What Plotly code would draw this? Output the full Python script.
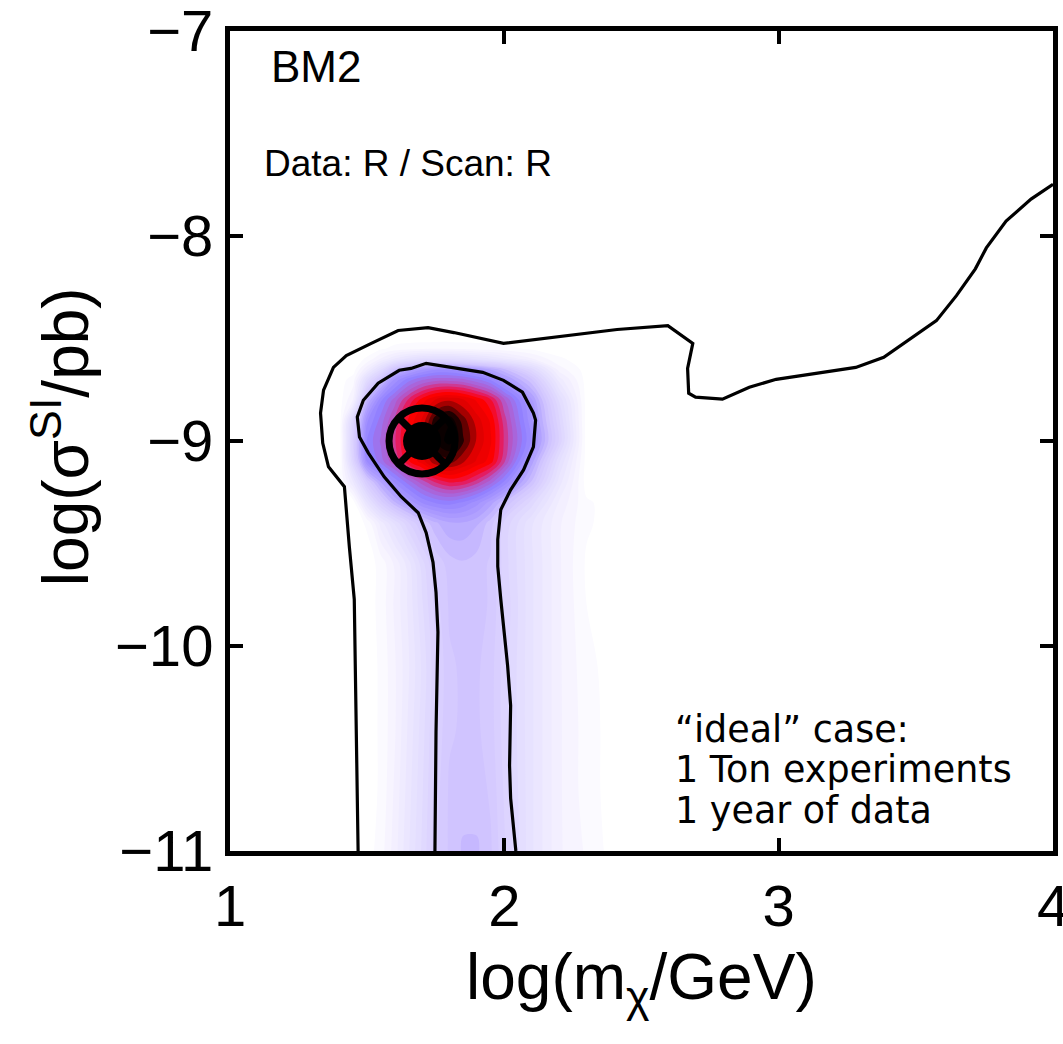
import plotly.graph_objects as go

# ---------------- data ----------------
# grid of the shaded density (log m_chi, log sigma)
x_grid = [1.30, 1.40, 1.45, 1.50, 1.55, 1.60, 1.65, 1.70, 1.75, 1.80, 1.85, 1.90, 1.95, 2.00, 2.10, 2.20, 2.30, 2.40]
y_grid = [-11.0, -10.7, -10.4, -10.1, -9.8, -9.6, -9.4, -9.3, -9.2, -9.1, -9.0, -8.9, -8.8, -8.7, -8.65, -8.6, -8.55, -8.5]

row_m1100 = [0, 0, 0, 0, 0.03, 0.09, 0.16, 0.23, 0.31, 0.35, 0.38, 0.38, 0.35, 0.29, 0.17, 0.08, 0.04, 0]
row_m1070 = [0, 0, 0, 0, 0.02, 0.08, 0.15, 0.22, 0.30, 0.35, 0.36, 0.36, 0.34, 0.28, 0.17, 0.08, 0.03, 0]
row_m1040 = [0, 0, 0, 0, 0.02, 0.07, 0.14, 0.21, 0.29, 0.34, 0.35, 0.35, 0.33, 0.27, 0.17, 0.08, 0.03, 0]
row_m1010 = [0, 0, 0, 0, 0.02, 0.07, 0.13, 0.20, 0.28, 0.34, 0.35, 0.35, 0.33, 0.27, 0.17, 0.08, 0.025, 0]
row_m980 = [0, 0, 0, 0, 0.025, 0.08, 0.14, 0.22, 0.30, 0.35, 0.36, 0.36, 0.34, 0.28, 0.17, 0.08, 0.015, 0]
row_m960 = [0, 0, 0, 0, 0.025, 0.08, 0.15, 0.24, 0.32, 0.36, 0.37, 0.36, 0.34, 0.27, 0.17, 0.08, 0.01, 0]
row_m940 = [0, 0, 0, 0.02, 0.12, 0.20, 0.28, 0.35, 0.40, 0.43, 0.43, 0.41, 0.36, 0.28, 0.17, 0.08, 0.02, 0]
row_m930 = [0, 0, 0, 0.17, 0.30, 0.40, 0.47, 0.53, 0.56, 0.57, 0.55, 0.51, 0.45, 0.38, 0.24, 0.10, 0.02, 0]
row_m920 = [0, 0, 0.14, 0.32, 0.44, 0.53, 0.60, 0.66, 0.71, 0.74, 0.73, 0.69, 0.63, 0.55, 0.37, 0.15, 0, 0]
row_m910 = [0, 0, 0.27, 0.53, 0.60, 0.67, 0.76, 0.81, 0.88, 0.90, 0.86, 0.82, 0.78, 0.68, 0.45, 0.20, 0, 0]
row_m900 = [0, 0, 0.30, 0.56, 0.62, 0.70, 0.78, 0.84, 0.95, 0.99, 0.92, 0.85, 0.80, 0.70, 0.52, 0.28, 0, 0]
row_m890 = [0, 0, 0.26, 0.52, 0.60, 0.68, 0.77, 0.83, 0.94, 0.97, 0.90, 0.84, 0.79, 0.69, 0.50, 0.26, 0, 0]
row_m880 = [0, 0, 0.08, 0.40, 0.55, 0.63, 0.71, 0.78, 0.83, 0.85, 0.83, 0.79, 0.74, 0.65, 0.47, 0.22, 0, 0]
row_m870 = [0, 0, 0.03, 0.22, 0.36, 0.50, 0.57, 0.61, 0.63, 0.63, 0.62, 0.59, 0.55, 0.48, 0.35, 0.12, 0, 0]
row_m865 = [0, 0, 0, 0.10, 0.22, 0.36, 0.44, 0.49, 0.52, 0.52, 0.50, 0.47, 0.43, 0.38, 0.24, 0.06, 0, 0]
row_m860 = [0, 0, 0, 0.02, 0.08, 0.14, 0.18, 0.21, 0.22, 0.22, 0.21, 0.19, 0.17, 0.14, 0.08, 0.02, 0, 0]
row_m855 = [0, 0, 0, 0, 0.01, 0.025, 0.035, 0.04, 0.045, 0.045, 0.04, 0.035, 0.03, 0.025, 0.01, 0, 0, 0]
row_m850 = [0, 0, 0, 0, 0, 0, 0, 0, 0, 0, 0, 0, 0, 0, 0, 0, 0, 0]

# outer (black) contour
outer_x = [1.467, 1.461, 1.453, 1.435, 1.417, 1.359, 1.338, 1.330, 1.341, 1.377, 1.424, 1.515,
           1.613, 1.722, 1.816, 1.997, 2.179, 2.411, 2.596, 2.687, 2.668, 2.672, 2.697, 2.795,
           2.893, 2.991, 3.281, 3.383, 3.575, 3.648, 3.717, 3.757, 3.829, 3.920, 4.0]
outer_y = [-11.0, -10.417, -9.772, -9.515, -9.223, -9.126, -9.010, -8.864, -8.752, -8.641, -8.583, -8.524,
           -8.461, -8.447, -8.471, -8.524, -8.495, -8.456, -8.437, -8.524, -8.646, -8.767, -8.786, -8.796,
           -8.738, -8.699, -8.641, -8.592, -8.413, -8.291, -8.160, -8.058, -7.927, -7.820, -7.748]

# inner (black) contour
inner_x = [1.747, 1.751, 1.758, 1.751, 1.740, 1.715, 1.686, 1.624, 1.562, 1.504, 1.472, 1.464, 1.486,
           1.540, 1.617, 1.660, 1.715, 1.831, 1.921, 1.997, 2.066, 2.106, 2.114, 2.106, 2.070, 2.023,
           1.987, 1.976, 1.976, 1.987, 2.012, 2.023, 2.019, 2.023, 2.042]
inner_y = [-11.0, -10.417, -9.932, -9.738, -9.592, -9.447, -9.350, -9.272, -9.175, -9.058, -8.981, -8.883, -8.801,
           -8.718, -8.655, -8.646, -8.621, -8.646, -8.665, -8.704, -8.762, -8.864, -8.898, -9.029, -9.141, -9.238,
           -9.335, -9.481, -9.612, -9.772, -10.097, -10.291, -10.583, -10.743, -11.0]

# benchmark point
bench_x = [1.7]
bench_y = [-9.0]

x_ticks = [1, 2, 3, 4]
y_ticks = [-11, -10, -9, -8, -7]

density = [row_m1100, row_m1070, row_m1040, row_m1010, row_m980, row_m960, row_m940, row_m930,
           row_m920, row_m910, row_m900, row_m890, row_m880, row_m870, row_m865, row_m860,
           row_m855, row_m850]

colorscale = [
    [0.00, '#ffffff'], [0.02, '#faf8ff'], [0.10, '#f0ecff'], [0.20, '#e4deff'],
    [0.30, '#d9cfff'], [0.36, '#d0c4ff'], [0.45, '#b2a2ff'], [0.58, '#9280ff'],
    [0.67, '#b458c8'], [0.74, '#e81858'], [0.79, '#ff0000'], [0.86, '#e00000'],
    [0.91, '#800000'], [0.95, '#200000'], [1.00, '#000000'],
]

fig = go.Figure()

fig.add_trace(go.Contour(
    x=x_grid, y=y_grid, z=density,
    colorscale=colorscale, zmin=0, zmax=1, zauto=False,
    autocontour=False,
    contours=dict(start=0.015, end=1.0, size=0.03, coloring='fill', showlines=False),
    line=dict(width=0, smoothing=1.0),
    showscale=False, hoverinfo='skip',
))

fig.add_trace(go.Scatter(x=outer_x, y=outer_y, mode='lines',
                         line=dict(color='black', width=3.2), hoverinfo='skip'))
fig.add_trace(go.Scatter(x=inner_x, y=inner_y, mode='lines',
                         line=dict(color='black', width=3.2), hoverinfo='skip'))

fig.add_trace(go.Scatter(x=bench_x, y=bench_y, mode='markers',
                         marker=dict(symbol='circle-x-open', size=66, color='black',
                                     line=dict(color='black', width=7)),
                         hoverinfo='skip'))
fig.add_trace(go.Scatter(x=bench_x, y=bench_y, mode='markers',
                         marker=dict(symbol='circle', size=38, color='black',
                                     line=dict(width=0)),
                         hoverinfo='skip'))

tickfont = dict(family='Liberation Sans, Arial, sans-serif', size=58, color='black')
axis_common = dict(
    ticks='inside', ticklen=13, tickwidth=4, tickcolor='black',
    showline=True, linewidth=5, linecolor='black', mirror='ticks',
    showgrid=False, zeroline=False, tickfont=tickfont,
    ticklabeloverflow='allow',
)

fig.update_layout(
    width=1063, height=1044,
    margin=dict(l=230, r=10, t=31, b=193, autoexpand=False),
    paper_bgcolor='white', plot_bgcolor='white',
    showlegend=False,
    xaxis=dict(range=[1, 4], tickvals=x_ticks, ticktext=[str(v) for v in x_ticks], **axis_common),
    yaxis=dict(range=[-11, -7], tickvals=y_ticks,
               ticktext=['\u2212' + str(-v) for v in y_ticks], **axis_common),
)

sans = 'Liberation Sans, Arial, sans-serif'
verd = 'DejaVu Sans, Verdana, sans-serif'
annots = [
    dict(text='log(m<sub>\u03c7</sub>/GeV)', x=0.5, y=-0.158, xref='paper', yref='paper',
         xanchor='center', yanchor='middle', font=dict(family=sans, size=64, color='black')),
    dict(text='log(\u03c3<sup>SI</sup>/pb)', x=-0.205, y=0.505, xref='paper', yref='paper',
         xanchor='center', yanchor='middle', textangle=-90,
         font=dict(family=sans, size=64, color='black')),
    dict(text='BM2', x=1.142, y=-7.172, xref='x', yref='y', xanchor='left', yanchor='middle',
         font=dict(family=sans, size=44, color='black')),
    dict(text='Data: R / Scan: R', x=1.115, y=-7.648, xref='x', yref='y', xanchor='left',
         yanchor='middle', font=dict(family=sans, size=37, color='black')),
    dict(text='\u201cideal\u201d case:', x=2.615, y=-10.408, xref='x', yref='y', xanchor='left',
         yanchor='middle', font=dict(family=verd, size=36.5, color='black')),
    dict(text='1 Ton experiments', x=2.615, y=-10.602, xref='x', yref='y', xanchor='left',
         yanchor='middle', font=dict(family=verd, size=36.5, color='black')),
    dict(text='1 year of data', x=2.615, y=-10.803, xref='x', yref='y', xanchor='left',
         yanchor='middle', font=dict(family=verd, size=36.5, color='black')),
]
for a in annots:
    a['showarrow'] = False
fig.update_layout(annotations=annots)

fig.write_html('out.html')
